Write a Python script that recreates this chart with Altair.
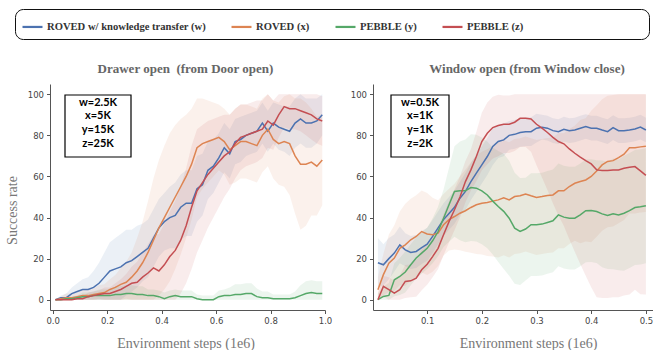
import altair as alt
import pandas as pd

series_names = ["ROVED w/ knowledge transfer (w)", "ROVED (x)", "PEBBLE (y)", "PEBBLE (z)"]
series_colors = ["#4c72b0", "#dd8452", "#55a868", "#c44e52"]

left_title = "Drawer open\u00a0 (from Door open)"
right_title = "Window open (from Window close)"
x_title = "Environment steps (1e6)"
y_title = "Success rate"
left_box_lines = ["w=2.5K", "x=5K", "y=15K", "z=25K"]
right_box_lines = ["w=0.5K", "x=1K", "y=1K", "z=2K"]
left_x_ticks = [0.0, 0.2, 0.4, 0.6, 0.8, 1.0]
right_x_ticks = [0.1, 0.2, 0.3, 0.4, 0.5]
y_ticks = [0, 20, 40, 60, 80, 100]

# ---------------- left panel (Drawer open) ----------------
left_x = [0.01, 0.03, 0.05, 0.07, 0.09, 0.11, 0.13, 0.15, 0.17, 0.19,
          0.21, 0.23, 0.25, 0.27, 0.29, 0.31, 0.33, 0.35, 0.37, 0.39,
          0.41, 0.43, 0.45, 0.47, 0.49, 0.51, 0.53, 0.55, 0.57, 0.59,
          0.61, 0.63, 0.65, 0.67, 0.69, 0.71, 0.73, 0.75, 0.77, 0.79,
          0.81, 0.83, 0.85, 0.87, 0.89, 0.91, 0.93, 0.95, 0.97, 0.99]
left_w = [0, 1, 1, 3, 4, 5, 5, 6, 8, 11,
          14, 15, 16, 18, 19, 21, 23, 25, 30, 35,
          38, 40, 41, 45, 47, 47, 54, 56, 63, 65,
          69, 74, 71, 77, 78, 80, 81, 82, 86, 82,
          86, 84, 83, 82, 86, 88, 86, 86, 87, 90]
left_xs = [0, 0.5, 1, 1, 1.5, 2, 2, 2.5, 3, 3.5,
           5, 6, 7.5, 8.5, 11, 14, 18, 23, 29, 35,
           40, 45, 50, 55, 60, 66, 74, 76, 77, 78,
           79, 77, 73, 75, 77, 77, 76, 75, 80, 83,
           78, 76, 77, 76, 70, 66, 66, 67, 65, 68]
left_y = [0, 0, 0.5, 0.5, 1, 1.5, 1.5, 2, 2, 2,
          2, 2.5, 2.5, 3, 3, 2.5, 2.5, 2, 2, 1.5,
          0.5, 1.5, 2, 1.5, 1.5, 1.5, 0.5, 0, 0, 0,
          1.5, 2, 2, 2.5, 2.5, 3, 3, 1.5, 1, 1,
          0.5, 0.5, 0.5, 0.5, 1, 2, 3, 3.5, 3, 3]
left_z = [0, 0, 0, 0, 0.5, 0.5, 1.5, 2, 2.5, 3,
          3, 4, 5, 6.5, 8, 8.5, 11, 13, 15.5, 14,
          17, 21, 24, 29, 36, 45, 53, 57, 61, 64,
          67, 70, 72, 76, 79, 80, 81, 82, 83, 87,
          85, 90, 94, 93, 93, 92, 91, 90, 88, 87]
left_w_spread = [0, 1, 2, 3, 4, 5, 6, 8, 10, 12,
                 14, 15, 16, 16, 15, 15, 14, 14, 14, 14,
                 14, 15, 16, 16, 16, 16, 16, 15, 14, 13,
                 12, 12, 12, 11, 11, 10, 10, 10, 10, 10,
                 10, 11, 11, 12, 12, 12, 12, 12, 11, 10]
left_xs_spread = [0, 1, 2, 2, 2, 3, 3, 3, 4, 4,
                  5, 6, 8, 10, 12, 16, 20, 25, 30, 33,
                  35, 36, 35, 33, 30, 27, 24, 22, 20, 18,
                  16, 16, 17, 18, 18, 18, 18, 18, 18, 18,
                  19, 20, 22, 25, 28, 32, 30, 26, 24, 22]
left_y_spread = [0, 0, 1, 1, 1, 2, 2, 2, 3, 3,
                 3, 4, 4, 4, 4, 4, 4, 3, 3, 3,
                 3, 3, 3, 3, 3, 3, 2, 2, 2, 2,
                 3, 3, 4, 5, 5, 5, 5, 4, 3, 3,
                 2, 2, 2, 2, 3, 5, 6, 6, 6, 6]
left_z_spread = [0, 0, 1, 1, 1, 1, 2, 2, 2, 3,
                 3, 4, 5, 6, 8, 10, 12, 14, 16, 18,
                 20, 22, 24, 26, 28, 30, 30, 28, 26, 24,
                 22, 20, 18, 17, 16, 15, 15, 15, 14, 13,
                 12, 11, 10, 10, 10, 10, 11, 12, 12, 12]

# ---------------- right panel (Window open) ----------------
right_x = [0.01, 0.02, 0.03, 0.04, 0.05, 0.06, 0.07, 0.08, 0.09, 0.10,
           0.11, 0.12, 0.13, 0.14, 0.15, 0.16, 0.17, 0.18, 0.19, 0.20,
           0.21, 0.22, 0.23, 0.24, 0.25, 0.26, 0.27, 0.28, 0.29, 0.30,
           0.31, 0.32, 0.33, 0.34, 0.35, 0.36, 0.37, 0.38, 0.39, 0.40,
           0.41, 0.42, 0.43, 0.44, 0.45, 0.46, 0.47, 0.48, 0.49, 0.50]
right_w = [18, 17, 20, 22.7, 26.7, 24.3, 23, 23.5, 25.4, 27,
           30.8, 35, 39, 42, 45, 49.4, 52.7, 57.5, 61.6, 65.6,
           69.7, 74.6, 77, 77.8, 80, 80.5, 81.4, 81.8, 81.8, 83.5,
           84, 83.5, 82.3, 81.8, 83, 82.3, 82.6, 83.5, 84.3, 83.5,
           83.5, 82.6, 81.8, 83.8, 82.3, 82.3, 82.6, 83.1, 84, 82.6]
right_xs = [4.9, 12.2, 17.8, 20.3, 25, 26.7, 29.2, 30.8, 33.2, 32,
            31.6, 32.4, 36.5, 39, 40.5, 42.1, 43.3, 44.9, 46.2, 47,
            47.3, 48, 48.6, 49.6, 48.6, 50.2, 50.6, 51.5, 50.6, 49.8,
            50.2, 50.7, 51, 53, 53, 55.1, 56.7, 57.5, 58.3, 60,
            62.7, 65.6, 67.3, 67.7, 69.2, 70.8, 74, 74, 74.4, 74.7]
right_y = [0, 1.6, 2.1, 9.7, 11.3, 13.5, 17, 20.3, 22.7, 25,
           28.7, 33.2, 39.7, 46.2, 52.7, 53, 53, 54.6, 54.3, 53,
           51, 48, 45.4, 43, 39.7, 34.8, 33.2, 34.4, 36.5, 36.5,
           36.8, 37.6, 38.4, 41.3, 40.2, 39.7, 39.7, 41.3, 43.3, 43.4,
           42.9, 41.8, 41, 41.8, 41.3, 42.1, 43.4, 44.9, 45.2, 45.7]
right_z = [0, 6.5, 4.9, 3.2, 4.9, 8.9, 9.2, 10.5, 14.6, 17.3,
           21, 25, 31.6, 38, 43.8, 50, 57.5, 63.2, 69.7, 77,
           81, 83.8, 84.8, 85.4, 85.4, 86.4, 88.3, 88.3, 88, 85.4,
           83.5, 81.4, 79, 77, 75.9, 73.4, 71.3, 69.4, 67.7, 66.1,
           63.2, 62.9, 62.9, 63.2, 63.2, 64, 64.5, 64.8, 62.7, 60.5]
right_w_spread = [12, 10, 10, 9, 9, 8, 8, 8, 8, 8,
                  8, 8, 8, 8, 8, 8, 9, 9, 9, 9,
                  9, 9, 8, 8, 7, 7, 7, 7, 7, 7,
                  6, 6, 6, 6, 6, 6, 6, 6, 6, 6,
                  6, 6, 6, 6, 6, 6, 6, 6, 6, 6]
right_xs_spread = [6, 10, 14, 16, 18, 20, 20, 20, 20, 20,
                   18, 16, 15, 15, 16, 18, 20, 22, 24, 25,
                   26, 27, 28, 28, 28, 28, 28, 28, 28, 28,
                   28, 28, 28, 28, 28, 28, 28, 30, 30, 32,
                   32, 32, 32, 32, 32, 32, 32, 32, 32, 32]
right_y_spread = [3, 5, 6, 8, 9, 10, 10, 10, 10, 10,
                  11, 12, 14, 18, 22, 24, 25, 26, 26, 26,
                  26, 26, 27, 28, 28, 27, 26, 25, 25, 25,
                  25, 25, 25, 25, 25, 25, 25, 25, 25, 25,
                  25, 26, 26, 27, 27, 28, 28, 28, 28, 28]
right_z_spread = [3, 5, 6, 6, 7, 8, 8, 9, 10, 10,
                  10, 10, 10, 10, 10, 10, 10, 10, 12, 14,
                  15, 15, 15, 14, 14, 14, 14, 14, 16, 20,
                  24, 28, 32, 36, 40, 44, 48, 52, 56, 60,
                  62, 62, 62, 62, 62, 62, 62, 60, 60, 58]


def panel_frame(xs, means, spreads):
    rows = []
    for name, col, m, s in zip(series_names, series_colors, means, spreads, strict=True):
        for x, v, d in zip(xs, m, s, strict=True):
            rows.append({"series": name, "fc": col, "x": x, "mean": v,
                         "lo": max(0.0, v - d), "hi": min(100.0, v + d)})
    return pd.DataFrame(rows)


left_df = panel_frame(left_x, [left_w, left_xs, left_y, left_z],
                      [left_w_spread, left_xs_spread, left_y_spread, left_z_spread])
right_df = panel_frame(right_x, [right_w, right_xs, right_y, right_z],
                       [right_w_spread, right_xs_spread, right_y_spread, right_z_spread])

legend = alt.Legend(
    orient="none", legendX=-35, legendY=-75, direction="horizontal", columns=4,
    title="\u00a0", titleOrient="right", titlePadding=120, titleFontSize=10,
    symbolType="stroke", symbolStrokeWidth=2.2, symbolSize=400,
    labelFont="Liberation Serif", labelFontWeight="bold", labelFontSize=10.6,
    labelColor="#333333", labelOffset=3, labelLimit=0, columnPadding=21, padding=6,
    strokeColor="#111111", cornerRadius=8, fillColor="#ffffff",
)


def panel(df, xdomain, width, xticks, title, title_dx, xtitle_x, box_lines,
          box_x0, box_x1, show_ytitle):
    yscale = alt.Scale(domain=[-5, 105], nice=False, zero=False)
    xaxis = alt.Axis(values=xticks, format=".1f", title=x_title, labelFlush=False,
                     titleX=xtitle_x, titleY=33, titleBaseline="middle",
                     titleAlign="center", titleAngle=0)
    ykw = dict(values=y_ticks, labelFlush=False)
    if show_ytitle:
        ykw.update(title=y_title, titleX=-38, titleY=126, titleAngle=270,
                   titleAlign="center", titleBaseline="middle")
    else:
        ykw.update(title="")
    xenc = alt.X("x:Q", scale=alt.Scale(domain=xdomain, nice=False, zero=False), axis=xaxis)

    band = alt.Chart(df).mark_area(fillOpacity=0.11, strokeWidth=0).encode(
        x=xenc,
        y=alt.Y("lo:Q", scale=yscale, axis=alt.Axis(**ykw)),
        y2="hi:Q",
        fill=alt.Fill("fc:N", scale=None),
        detail="series:N",
    )
    line = alt.Chart(df).mark_line(strokeWidth=1.5).encode(
        x=xenc,
        y=alt.Y("mean:Q", scale=yscale),
        color=alt.Color("series:N", scale=alt.Scale(domain=series_names, range=series_colors),
                        legend=legend, sort=series_names),
    )
    box_df = pd.DataFrame({"t": ["\n".join(box_lines)]})
    box = alt.Chart(box_df).mark_rect(fill="white", stroke="black", strokeWidth=1.2).encode(
        x=alt.value(box_x0), x2=alt.value(box_x1), y=alt.value(11), y2=alt.value(73))
    txt = alt.Chart(box_df).mark_text(
        font="Lato", fontWeight="bold", fontSize=11, lineBreak="\n", lineHeight=13.8,
        align="center", baseline="middle", color="black").encode(
        text="t:N", x=alt.value((box_x0 + box_x1) / 2), y=alt.value(18.5))
    return alt.layer(band, line, box, txt).properties(
        width=width, height=226,
        title=alt.TitleParams(title, font="Liberation Serif", fontWeight="bold",
                              fontSize=13, color="#666666", offset=8, dx=title_dx,
                              anchor="middle"),
    )


left = panel(left_df, [-0.01, 1.0], 275, left_x_ticks, left_title, -2, 135.5,
             left_box_lines, 15, 81, True)
right = panel(right_df, [0.001, 0.513], 280, right_x_ticks, right_title, 14, 155,
              right_box_lines, 18, 76, False)

chart = alt.hconcat(left, right, spacing=48, bounds="flush").properties(
    padding={"left": 5, "top": 8, "right": 0, "bottom": 0},
    autosize=alt.AutoSizeParams(type="pad"),
).configure_view(stroke=None).configure_axis(
    grid=False, domainColor="#555555", tickColor="#555555", domainWidth=1,
    tickSize=3.5, labelFont="DejaVu Sans", labelFontSize=8.5, labelColor="#444444",
    labelPadding=3, titleFont="Liberation Serif", titleFontSize=14,
    titleFontWeight="normal", titleColor="#777777",
)

chart.save("out.html", embed_options={"renderer": "svg", "actions": False})
